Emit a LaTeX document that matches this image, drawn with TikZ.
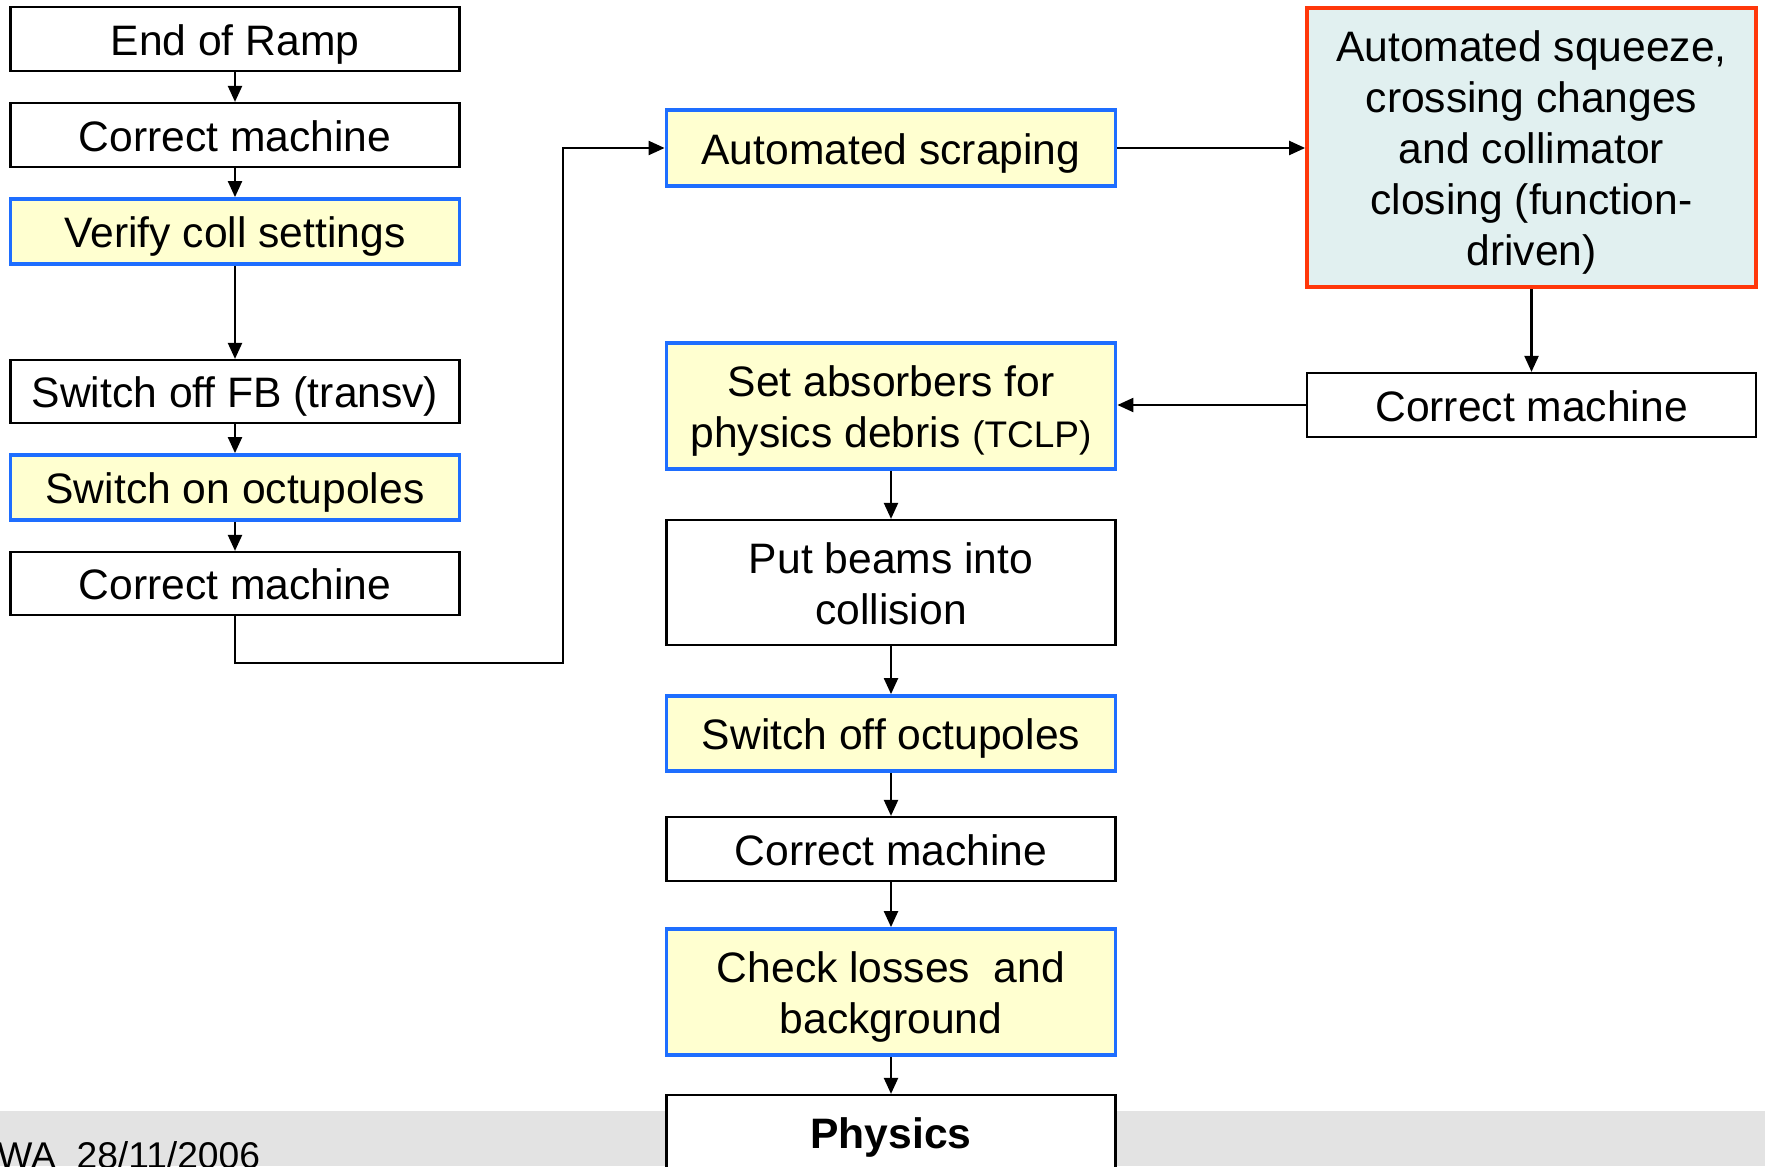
\documentclass[tikz,border=0pt]{standalone}
\usepackage{fontspec}
\setmainfont{Liberation Sans}
\usetikzlibrary{arrows.meta}
\definecolor{boxblue}{RGB}{30,110,255}
\definecolor{boxyellow}{RGB}{255,255,208}
\definecolor{boxred}{RGB}{255,55,10}
\definecolor{boxcyan}{RGB}{225,240,240}
\definecolor{footgray}{RGB}{227,227,227}
\newcommand\mystrut{\rule[-4.1pt]{0pt}{24.6pt}}
\begin{document}
\begin{tikzpicture}[x=0.5pt,y=-0.5pt,
  base/.style={rectangle, minimum width=224.5pt, inner sep=0pt, align=center,
    font=\fontsize{21.3}{25.4}\selectfont},
  plainbox/.style={base, draw=black, line width=1.1pt, fill=white},
  bluebox/.style={base, draw=boxblue, line width=1.9pt, fill=boxyellow},
  redbox/.style={base, draw=boxred, line width=1.9pt, fill=boxcyan},
  arr/.style={draw=black, line width=1.1pt, -{Triangle[length=8pt,width=7pt]}}]
\useasboundingbox (0,0) rectangle (1765,1166);
\clip (0,0) rectangle (1765,1166);
\fill[white] (0,0) rectangle (1765,1166);
\fill[footgray] (0,1111) rectangle (1765,1166);
\node[anchor=base west, inner sep=0pt, font=\fontsize{18.6}{21}\selectfont] (foot) at (-3,1168) {WA\ \ 28/11/2006};
% left column
\node[plainbox, minimum height=32pt] (e1) at (235,39) {End of Ramp\mystrut};
\node[plainbox, minimum height=32pt] (c1) at (235,135) {Correct machine\mystrut};
\node[bluebox, minimum height=32.5pt] (v1) at (235,231.5) {Verify coll settings\mystrut};
\node[plainbox, minimum height=31.5pt] (fb) at (235,391.5) {Switch off FB (transv)\mystrut};
\node[bluebox, minimum height=32.5pt] (on) at (235,487.5) {Switch on octupoles\mystrut};
\node[plainbox, minimum height=31.5pt] (c2) at (235,583.5) {Correct machine\mystrut};
% middle column
\node[bluebox, minimum height=38pt] (scr) at (891,148) {Automated scraping\mystrut};
\node[bluebox, minimum height=63pt] (abs) at (891,406) {Set absorbers for\mystrut\\physics debris {\fontsize{18.5}{25.4}\selectfont(TCLP)}\mystrut};
\node[plainbox, minimum height=62.5pt] (pb) at (891,582.5) {Put beams into\mystrut\\collision\mystrut};
\node[bluebox, minimum height=37.5pt] (off) at (891,733.5) {Switch off octupoles\mystrut};
\node[plainbox, minimum height=32pt] (c3) at (891,849) {Correct machine\mystrut};
\node[bluebox, minimum height=63pt] (chk) at (891,992) {Check losses\ \ and\mystrut\\background\mystrut};
\node[plainbox, minimum height=42pt, font=\fontsize{21.3}{25.4}\selectfont\bfseries] (phy) at (891,1137) {Physics};
% right column
\node[redbox, minimum height=139.5pt] (sq) at (1531.5,147.5) {Automated squeeze,\mystrut\\crossing changes\mystrut\\and collimator\mystrut\\closing (function-\mystrut\\driven)\mystrut};
\node[plainbox, minimum height=32pt] (c4) at (1531.5,405) {Correct machine\mystrut};
% connectors
\coordinate (k1) at (563,663);
\draw[arr] (e1) -- (c1);
\draw[arr] (c1) -- (v1);
\draw[arr] (v1) -- (fb);
\draw[arr] (fb) -- (on);
\draw[arr] (on) -- (c2);
\draw[arr] (c2.south) |- (k1) |- (scr.west);
\draw[arr] (scr.east) -- (sq.west |- scr.east);
\draw[arr] (sq) -- (c4);
\draw[arr] (c4.west) -- (abs.east |- c4.west);
\draw[arr] (abs) -- (pb);
\draw[arr] (pb) -- (off);
\draw[arr] (off) -- (c3);
\draw[arr] (c3) -- (chk);
\draw[arr] (chk) -- (phy);
\end{tikzpicture}
\end{document}
